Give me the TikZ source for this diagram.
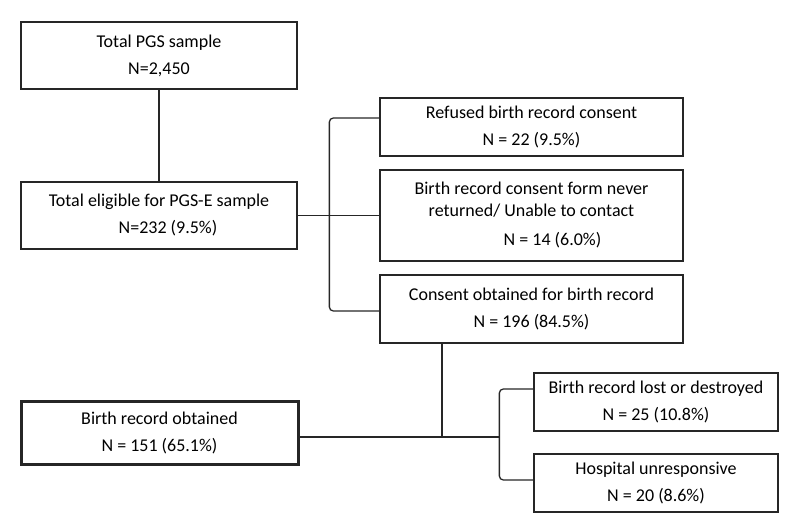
\documentclass[tikz,border=0pt]{standalone}
\usepackage{fontspec}
\setmainfont{Carlito}
\usetikzlibrary{positioning}

\begin{document}
\begin{tikzpicture}[
    x=1pt, y=-1pt,
    box/.style={
        rectangle, draw=black!85, line width=1.3pt,
        inner sep=0pt, align=center,
        font=\fontsize{18}{27}\selectfont
    },
    line/.style={draw=black!85, line width=1.3pt}
]
\useasboundingbox (0,0) rectangle (800,526);

\node[box, minimum width=276pt, minimum height=67pt] (total) at (159,55.5) {Total PGS sample\\N=2,450};
\node[box, minimum width=276pt, minimum height=67pt] (eligible) at (159,215.5) {Total eligible for PGS-E sample\\\hspace*{18pt}N=232 (9.5\%)};
\node[box, minimum width=303pt, minimum height=58pt] (refused) at (531.5,127) {Refused birth record consent\\N = 22 (9.5\%)};
\node[box, minimum width=303pt, minimum height=91pt] (never) at (531.5,215.5) {Birth record consent form never\\[-5pt]returned/ Unable to contact\\[2pt]\hspace*{42pt}N = 14 (6.0\%)};
\node[box, minimum width=303pt, minimum height=68pt] (consent) at (531.5,309) {Consent obtained for birth record\\N = 196 (84.5\%)};
\node[box, line width=3pt, minimum width=277pt, minimum height=63pt] (obtained) at (159.5,432.5) {Birth record obtained\\N = 151 (65.1\%)};
\node[box, minimum width=244pt, minimum height=58pt] (lost) at (656,402) {Birth record lost or destroyed\\N = 25 (10.8\%)};
\node[box, minimum width=244pt, minimum height=58pt] (hospital) at (656,483) {Hospital unresponsive\\N = 20 (8.6\%)};

\coordinate (join) at (442,437);

\draw[line] (total) -- (eligible);
\draw[line] (eligible) -- (never);
\draw[line, rounded corners=4pt] ([yshift=9pt]refused.west) -| ([xshift=-50pt]never.west) |- ([yshift=-2pt]consent.west);
\draw[line] (join |- consent.south) -- (join);
\draw[line] ([yshift=-4.5pt]obtained.east) -- (join) -- ([xshift=-34pt]lost.west |- join);
\draw[line, rounded corners=4pt] ([yshift=13pt]lost.west) -| ([xshift=-34pt]lost.west |- join) |- ([yshift=3pt]hospital.west);

\end{tikzpicture}
\end{document}
